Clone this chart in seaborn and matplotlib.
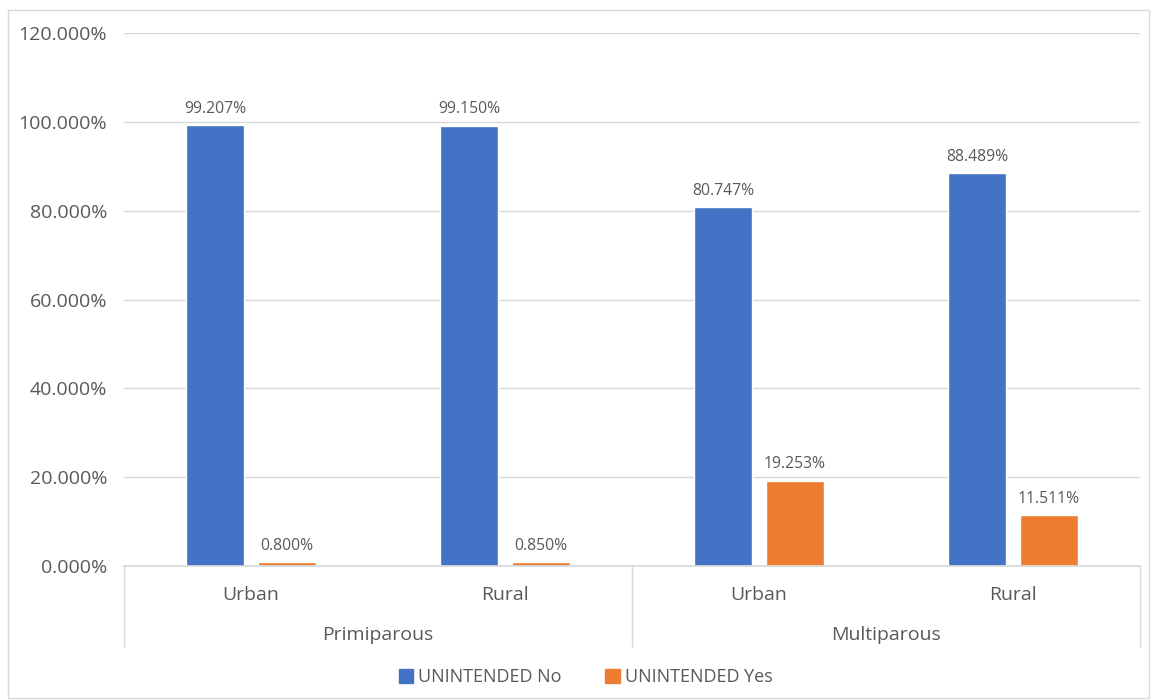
import matplotlib.pyplot as plt
import matplotlib.patches as mpatches
import matplotlib.transforms as mtransforms
import pandas as pd
import seaborn as sns

parity = ["Primiparous", "Primiparous", "Multiparous", "Multiparous"]
residence = ["Urban", "Rural", "Urban", "Rural"]
unintended_no = [99.207, 99.150, 80.747, 88.489]
unintended_yes = [0.800, 0.850, 19.253, 11.511]
series_names = ["UNINTENDED No", "UNINTENDED Yes"]
colors = ["#4472C4", "#ED7D31"]
yticks = [0, 20, 40, 60, 80, 100, 120]

sns.set_theme(style="white")
plt.rcParams["font.family"] = ["Open Sans", "DejaVu Sans"]
text_color = "#595959"
grid_color = "#D9D9D9"

keys = [f"{p} {r}" for p, r in zip(parity, residence)]
df = pd.DataFrame({
    "key": keys * 2,
    "series": [series_names[0]] * 4 + [series_names[1]] * 4,
    "value": unintended_no + unintended_yes,
})

fig = plt.figure(figsize=(11.53, 7.0), dpi=100)
ax = fig.add_axes([0.1075, 0.1914, 0.8812, 0.7614])

sns.barplot(data=df, x="key", y="value", hue="series", order=keys,
            hue_order=series_names, palette=colors, width=0.567, gap=0.19,
            saturation=1, ax=ax, legend=False)

ax.set_ylim(0, 120)
ax.set_xlim(-0.5, 3.5)
ax.set_yticks(yticks)
ax.set_yticklabels([f"{v:.3f}%" for v in yticks], fontsize=14, color=text_color)
ax.tick_params(axis="y", length=0, pad=12)
ax.set_axisbelow(True)
ax.yaxis.grid(True, color=grid_color, linewidth=1)
for s in ["top", "right", "left"]:
    ax.spines[s].set_visible(False)
ax.spines["bottom"].set_color(grid_color)
ax.set_xlabel("")
ax.set_ylabel("")
ax.set_xticks([])

for cont in ax.containers:
    ax.bar_label(cont, labels=[f"{b.get_height():.3f}%" for b in cont],
                 padding=6, fontsize=11.3, color=text_color)

# multi-level category axis
trans = mtransforms.blended_transform_factory(ax.transData, ax.transAxes)
px = 1 / (0.7614 * 700)
for xv in [-0.5, 1.5, 3.5]:
    ax.plot([xv, xv], [0, -81 * px], transform=trans, color=grid_color,
            lw=1, clip_on=False)
for i, r in enumerate(residence):
    ax.text(i, -29 * px, r, transform=trans, ha="center", va="center",
            fontsize=14, color=text_color)
for i, p in enumerate(["Primiparous", "Multiparous"]):
    ax.text(2 * i + 0.5, -69 * px, p, transform=trans, ha="center",
            va="center", fontsize=14, color=text_color)

handles = [mpatches.Patch(color=c, label=n) for c, n in zip(colors, series_names)]
fig.legend(handles=handles, loc="center", bbox_to_anchor=(0.508, 1 - 677 / 700),
           ncol=2, frameon=False, fontsize=13, labelcolor=text_color,
           handlelength=0.8, handleheight=0.8, handletextpad=0.3,
           columnspacing=2.4)

fig.patches.append(mpatches.Rectangle((8 / 1153, 2 / 700), 1141 / 1153, 688 / 700,
                                      transform=fig.transFigure, fill=False,
                                      edgecolor=grid_color, lw=1))

fig.savefig("out.png", dpi=100)
